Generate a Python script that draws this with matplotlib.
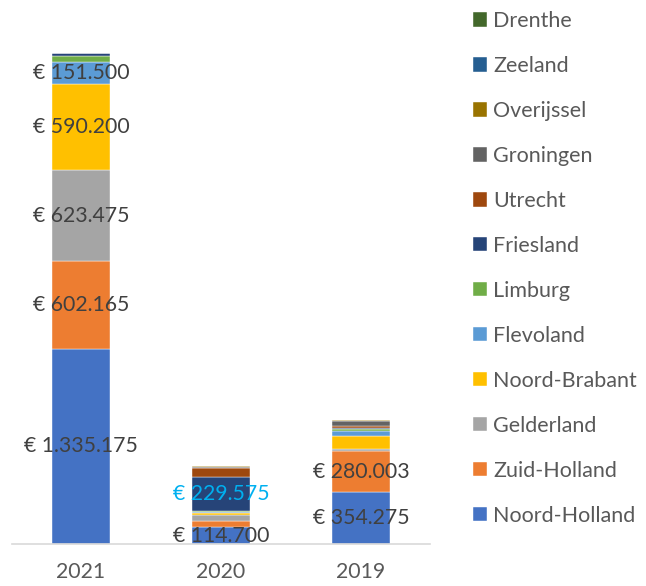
import numpy as np
import matplotlib.pyplot as plt

years = ['2021', '2020', '2019']
provinces = ['Noord-Holland', 'Zuid-Holland', 'Gelderland', 'Noord-Brabant',
             'Flevoland', 'Limburg', 'Friesland', 'Utrecht', 'Groningen',
             'Overijssel', 'Zeeland', 'Drenthe']
colors = ['#4472C4', '#ED7D31', '#A5A5A5', '#FFC000', '#5B9BD5', '#70AD47',
          '#264478', '#9E480E', '#636363', '#997300', '#255E91', '#43682B']

# values per province, per year (2021, 2020, 2019)
noord_holland = [1335175, 114700, 354275]
zuid_holland = [602165, 40000, 280003]
gelderland = [623475, 41000, 18000]
noord_brabant = [590200, 14000, 87000]
flevoland = [151500, 9000, 36000]
limburg = [41000, 8000, 14000]
friesland = [20000, 229575, 8000]
utrecht = [0, 66000, 14000]
groningen = [0, 3000, 34000]
overijssel = [0, 8000, 7000]
zeeland = [0, 0, 0]
drenthe = [0, 0, 0]

series = [noord_holland, zuid_holland, gelderland, noord_brabant, flevoland,
          limburg, friesland, utrecht, groningen, overijssel, zeeland, drenthe]

# which segments carry a label: (province index, year index, colour)
labelled = [(0, 0, '#404040'), (1, 0, '#404040'), (2, 0, '#404040'),
            (3, 0, '#404040'), (4, 0, '#404040'),
            (6, 1, '#00B0F0'), (0, 1, '#404040'),
            (0, 2, '#404040'), (1, 2, '#404040')]

plt.rcParams['font.family'] = ['Lato', 'DejaVu Sans']

fig = plt.figure(figsize=(6.46, 5.86), dpi=100)
ax = fig.add_axes([12 / 646, 42 / 586, 418 / 646, 514 / 586])

x = np.arange(len(years))
bottom = np.zeros(len(years))
bottoms = []
handles = []
for name, vals, c in zip(provinces, series, colors):
    vals = np.array(vals, dtype=float)
    h = ax.bar(x, vals, 0.41, bottom=bottom, color=c, label=name,
               edgecolor='white', linewidth=0.3)
    handles.append(h)
    bottoms.append(bottom.copy())
    bottom += vals

for pi, yi, col in labelled:
    v = series[pi][yi]
    yc = bottoms[pi][yi] + v / 2
    txt = '€ ' + f'{v:,}'.replace(',', '.')
    ax.text(x[yi], yc, txt, ha='center', va='center', fontsize=15.3, color=col)

ax.set_xlim(-0.493, 2.493)
ax.set_ylim(0, 514 * 6847)
ax.set_xticks(x)
ax.set_xticklabels(years, fontsize=15.3, color='#595959')
ax.tick_params(axis='x', length=0, pad=13)
ax.set_yticks([])
for s in ['top', 'right', 'left']:
    ax.spines[s].set_visible(False)
ax.spines['bottom'].set_color('#D9D9D9')
ax.spines['bottom'].set_linewidth(1.2)

leg = fig.legend(handles[::-1], provinces[::-1], loc='upper left',
                 bbox_to_anchor=(473 / 646, 1 - 11 / 586), frameon=False,
                 fontsize=15.5, handlelength=0.65, handleheight=0.65,
                 handletextpad=0.28, labelspacing=1.16, borderpad=0,
                 borderaxespad=0)
for t in leg.get_texts():
    t.set_color('#595959')

fig.savefig('out.png', dpi=100)
